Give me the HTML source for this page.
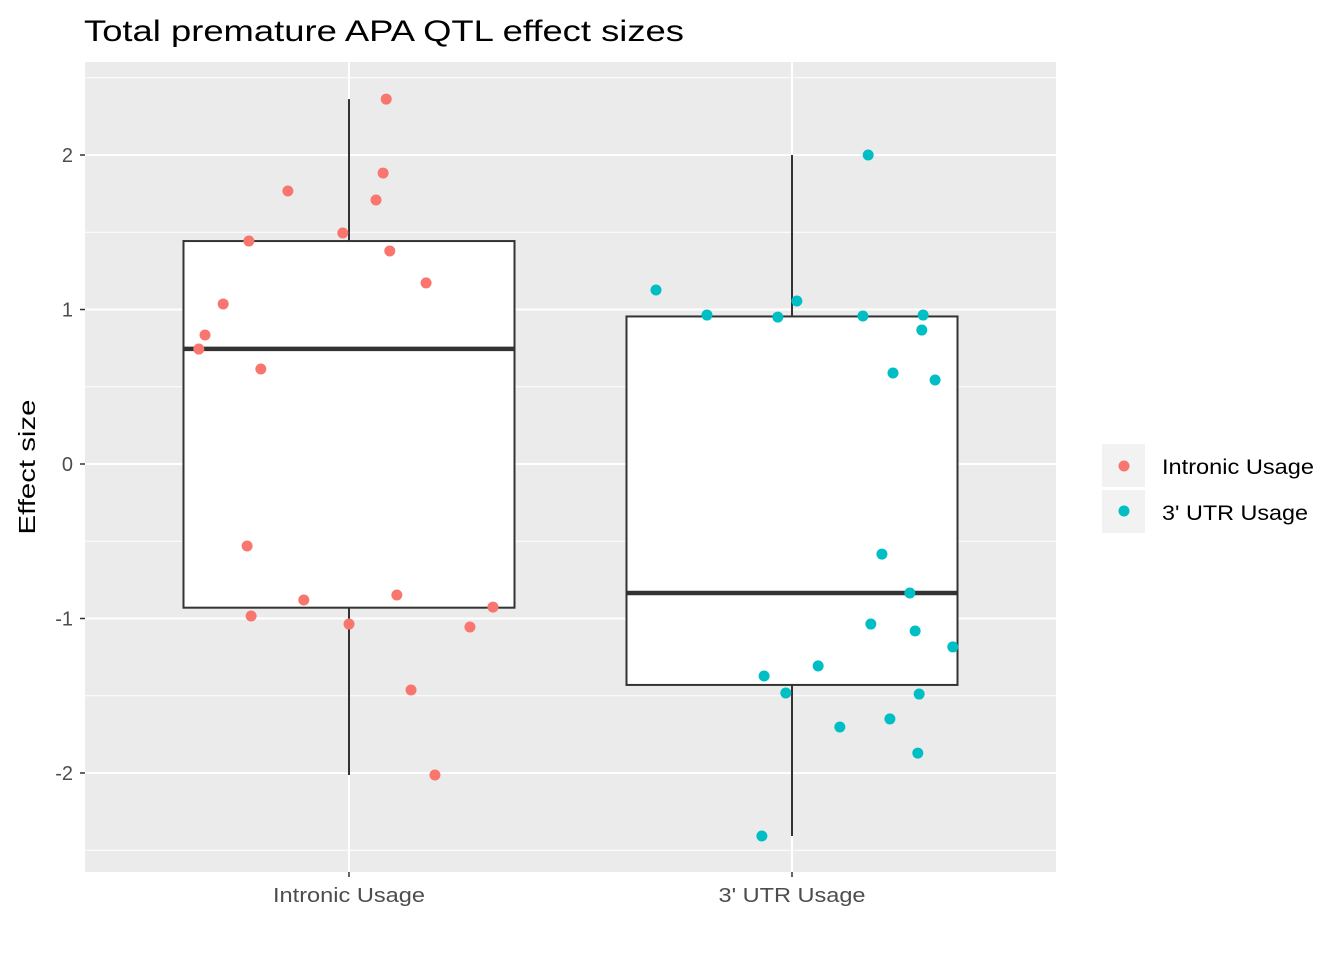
<!DOCTYPE html>
<html><head><meta charset="utf-8"><style>
html,body{margin:0;padding:0;background:#fff}
svg{display:block;font-family:"Liberation Sans",sans-serif}
</style></head><body>
<svg id="chart" width="1344" height="960">
<rect x="85" y="62" width="971" height="810" fill="#ebebeb"/>
<g id="grid"></g><g id="boxes"></g><g id="points"></g><g id="axes"></g>
<text x="84" y="41" font-size="30" textLength="600" lengthAdjust="spacingAndGlyphs" fill="#000">Total premature APA QTL effect sizes</text>
<text transform="translate(35,467) rotate(-90)" text-anchor="middle" font-size="23" textLength="135" lengthAdjust="spacingAndGlyphs" fill="#000">Effect size</text>
<g>
<rect x="1102" y="444" width="43" height="43" fill="#f2f2f2"/>
<circle cx="1124" cy="466" r="5.5" fill="#F8766D"/>
<text x="1162" y="474" font-size="21" textLength="152" lengthAdjust="spacingAndGlyphs">Intronic Usage</text>
<rect x="1102" y="490" width="43" height="43" fill="#f2f2f2"/>
<circle cx="1124" cy="511" r="5.5" fill="#00BFC4"/>
<text x="1162" y="520" font-size="21" textLength="146" lengthAdjust="spacingAndGlyphs">3' UTR Usage</text>
</g>
</svg>
<script>
const categories = ["Intronic Usage", "3' UTR Usage"];
const colors = ["#F8766D", "#00BFC4"];
const yTicks = [-2, -1, 0, 1, 2];
const yMinor = [-2.5, -1.5, -0.5, 0.5, 1.5, 2.5];
const intronicValues = [2.362,1.883,1.767,1.709,1.495,1.443,1.379,1.172,1.036,0.835,0.744,0.615,-0.531,-0.880,-0.848,-0.926,-0.984,-1.036,-1.055,-1.463,-2.013];
const intronicJitter = [0.084,0.077,-0.138,0.061,-0.014,-0.226,0.092,0.174,-0.284,-0.325,-0.339,-0.199,-0.230,-0.102,0.108,0.325,-0.221,0,0.273,0.140,0.194];
const utrValues = [2.0,1.126,1.055,0.964,0.951,0.958,0.964,0.867,0.589,0.544,-0.583,-0.835,-1.036,-1.081,-1.184,-1.307,-1.372,-1.482,-1.489,-1.650,-1.702,-1.871,-2.408];
const utrJitter = [0.172,-0.307,0.011,-0.192,-0.032,0.160,0.296,0.293,0.228,0.323,0.203,0.266,0.178,0.278,0.363,0.059,-0.063,-0.014,0.287,0.221,0.108,0.284,-0.068];
const boxLow = [-2.013, -2.408];
const boxQ1 = [-0.93, -1.43];
const boxMedian = [0.745, -0.835];
const boxQ3 = [1.443, 0.955];
const boxHigh = [2.362, 2.0];

const NS="http://www.w3.org/2000/svg";
const xs = c => 349 + c*443;
const ys = v => 464 - v*154.5;
function mk(tag, attrs, parent){const e=document.createElementNS(NS,tag);for(const k in attrs)e.setAttribute(k,attrs[k]);document.getElementById(parent).appendChild(e);return e;}
yMinor.forEach(v=>{const e=mk('line',{x1:85,x2:1056,y1:ys(v),y2:ys(v),stroke:'#fff','stroke-width':1},'grid');

});
yTicks.forEach(v=>{const e=mk('line',{x1:85,x2:1056,y1:ys(v),y2:ys(v),stroke:'#fff','stroke-width':2},'grid');


const t=mk('line',{x1:80,x2:85,y1:ys(v),y2:ys(v),stroke:'#333','stroke-width':1.5},'axes');


const l=mk('text',{x:73,y:ys(v)+7,'text-anchor':'end','font-size':20,fill:'#4d4d4d'},'axes');l.textContent=v;

});
const xLabW=[152,147];
categories.forEach((c,i)=>{const e=mk('line',{x1:xs(i),x2:xs(i),y1:62,y2:872,stroke:'#fff','stroke-width':2},'grid');


const t=mk('line',{x1:xs(i),x2:xs(i),y1:872,y2:877,stroke:'#333','stroke-width':1.5},'axes');


const l=mk('text',{x:xs(i),y:902,'text-anchor':'middle','font-size':20,fill:'#4d4d4d',textLength:xLabW[i],lengthAdjust:'spacingAndGlyphs'},'axes');l.textContent=c;


const hw=0.3736*443;
const w1=mk('line',{x1:xs(i),x2:xs(i),y1:ys(boxHigh[i]),y2:ys(boxQ3[i]),stroke:'#333','stroke-width':2},'boxes');


const w2=mk('line',{x1:xs(i),x2:xs(i),y1:ys(boxQ1[i]),y2:ys(boxLow[i]),stroke:'#333','stroke-width':2},'boxes');


const r=mk('rect',{x:xs(i)-hw,y:ys(boxQ3[i]),width:2*hw,height:ys(boxQ1[i])-ys(boxQ3[i]),fill:'#fff',stroke:'#333','stroke-width':2},'boxes');


const m=mk('line',{x1:xs(i)-hw,x2:xs(i)+hw,y1:ys(boxMedian[i]),y2:ys(boxMedian[i]),stroke:'#333','stroke-width':4.5},'boxes');

});
[[intronicValues,intronicJitter],[utrValues,utrJitter]].forEach(([vals,jit],i)=>{vals.forEach((v,k)=>{
const p=mk('circle',{cx:xs(i+jit[k]),cy:ys(v),r:5.5,fill:colors[i]},'points');

});});
</script>
</body></html>
